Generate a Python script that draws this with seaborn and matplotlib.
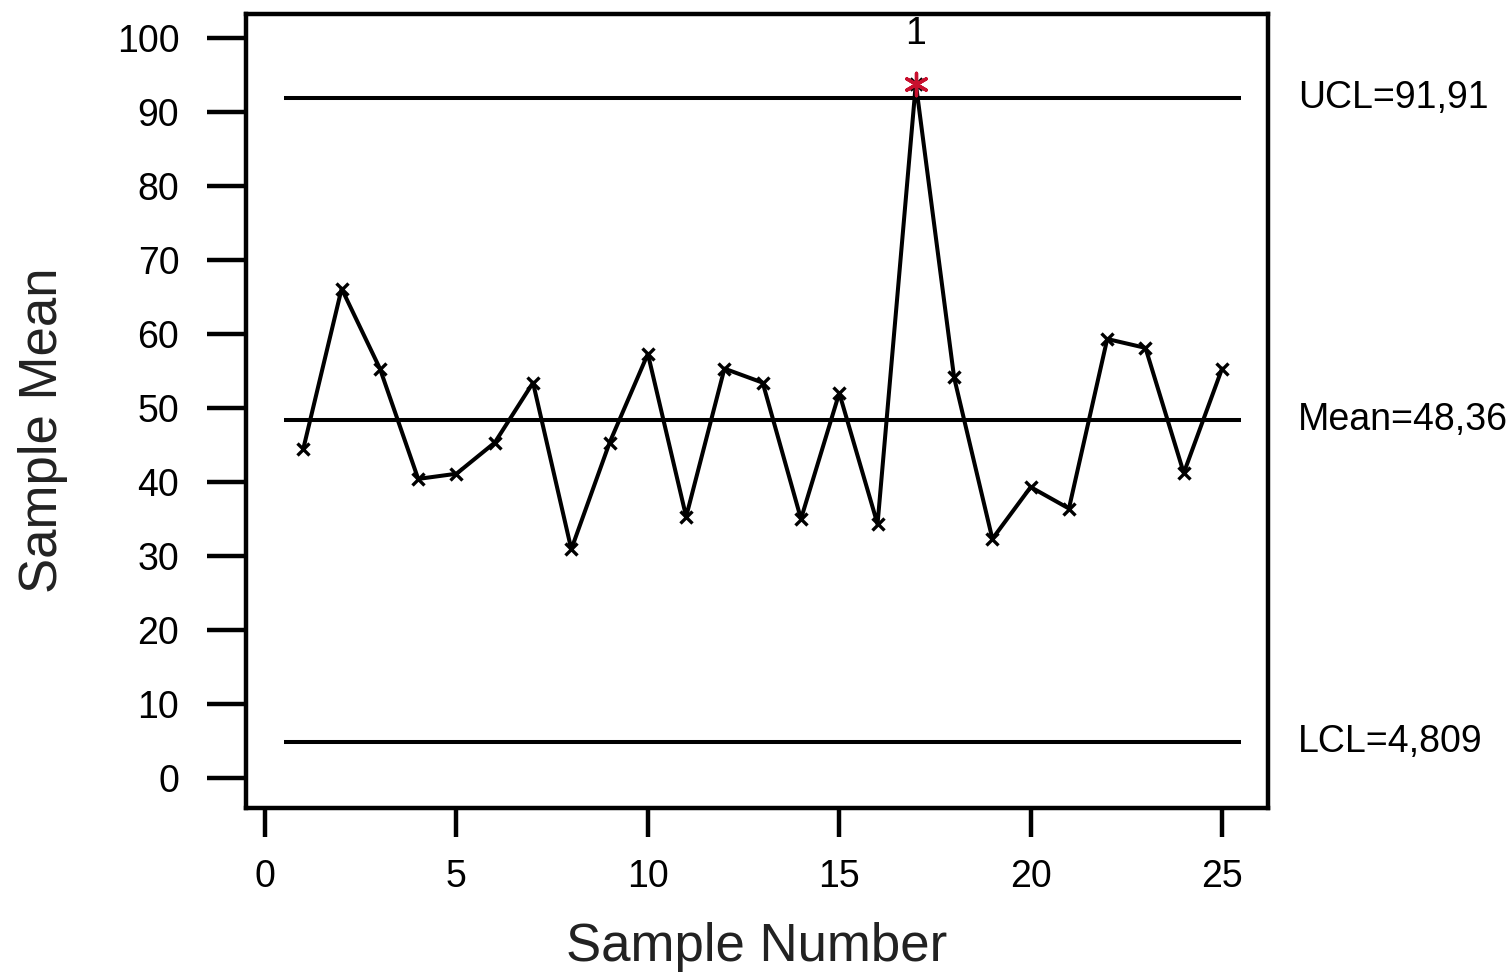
import pandas as pd
import numpy as np
import matplotlib.pyplot as plt
import seaborn as sns

# subgroup means
sample = list(range(1, 26))
means = [44.5, 66.1, 55.3, 40.4, 41.1, 45.3, 53.4, 30.9, 45.3, 57.3,
         35.3, 55.3, 53.4, 35.0, 52.0, 34.3, 93.8, 54.1, 32.3, 39.3,
         36.4, 59.3, 58.1, 41.2, 55.3]
ucl = 91.91
center = 48.36
lcl = 4.809
limit_labels = ['UCL=91,91', 'Mean=48,36', 'LCL=4,809']
x_ticks = [0, 5, 10, 15, 20, 25]
y_ticks = [0, 10, 20, 30, 40, 50, 60, 70, 80, 90, 100]


def main():
    sns.set_style('ticks')
    plt.rcParams['font.family'] = ['Liberation Sans', 'DejaVu Sans']
    plt.rcParams['text.color'] = 'black'
    plt.rcParams['axes.labelcolor'] = 'black'
    df = pd.DataFrame({'sample': sample, 'mean': means})
    out = df[(df['mean'] > ucl) | (df['mean'] < lcl)]

    fig = plt.figure(figsize=(15.07, 9.73), dpi=100)
    ax = fig.add_axes([0.1632, 0.1696, 0.6782, 0.8160])

    for val in [ucl, center, lcl]:
        ax.hlines(val, 0.5, 25.5, color='black', lw=2.9, zorder=1)

    sns.lineplot(data=df, x='sample', y='mean', color='black', lw=2.9,
                 marker='x', markersize=9, markeredgewidth=2.4,
                 markeredgecolor='black', ax=ax, zorder=3)
    ax.scatter(out['sample'], out['mean'], marker=(6, 2, 0), s=260,
               color='#c8102e', linewidths=2.4, zorder=4)
    for _, r in out.iterrows():
        ax.annotate('1', (r['sample'], r['mean']), xytext=(0, 23),
                    textcoords='offset points', ha='center', va='bottom',
                    fontsize=27)

    for val, lab in zip([ucl, center, lcl], limit_labels):
        ax.text(1.029, val, lab, transform=ax.get_yaxis_transform(),
                ha='left', va='center', fontsize=27)

    ax.set_xlim(-0.5, 26.2)
    ax.set_ylim(-4.05, 103.2)
    ax.set_xticks(x_ticks)
    ax.set_yticks(y_ticks)
    ax.tick_params(axis='both', direction='out', width=3.2, labelsize=27,
                   colors='black')
    ax.tick_params(axis='y', length=28, pad=20)
    ax.tick_params(axis='x', length=21, pad=16)
    for sp in ax.spines.values():
        sp.set_visible(True)
        sp.set_linewidth(3.2)
        sp.set_color('black')
    ax.set_xlabel('Sample Number', fontsize=38, color='#222222', labelpad=19)
    ax.set_ylabel('Sample Mean', fontsize=38, color='#222222')
    ax.yaxis.set_label_coords(-0.174, 0.476)

    fig.savefig('out.png', dpi=100)
    plt.close(fig)


if __name__ == '__main__':
    main()
